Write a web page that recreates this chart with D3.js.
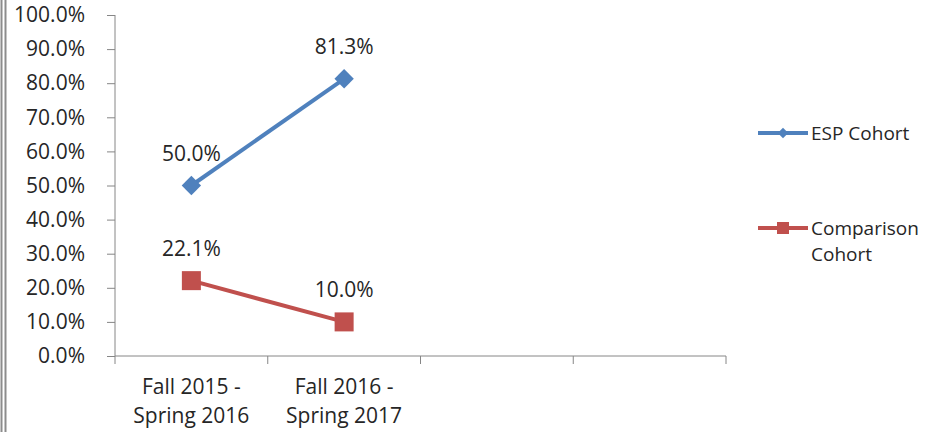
<!DOCTYPE html>
<html>
<head>
<meta charset="utf-8">
<script src="https://d3js.org/d3.v7.min.js"></script>
<style>
  body { margin: 0; background: #fff; }
  svg text { font-family: "Open Sans", sans-serif; fill: #262626; }
</style>
</head>
<body>
<svg id="chart" width="944" height="432"></svg>
<script>
// chart data
var categories = ["Fall 2015 -|Spring 2016", "Fall 2016 -|Spring 2017", "c3", "c4"];
var espValues = [0.50, 0.813];
var compValues = [0.221, 0.10];
var seriesNames = ["ESP Cohort", "Comparison|Cohort"];
var yTicks = [0, 0.1, 0.2, 0.3, 0.4, 0.5, 0.6, 0.7, 0.8, 0.9, 1.0];

var svg = d3.select("#chart");
var blue = "#4F81BD", red = "#C0504D", axisCol = "#868686";
var fs = "21px";

// frame on the left
svg.append("line").attr("x1", 1.5).attr("x2", 1.5).attr("y1", 0).attr("y2", 432)
  .attr("stroke", "#8c8c8c").attr("stroke-width", 2);
svg.append("line").attr("x1", 5.5).attr("x2", 5.5).attr("y1", 0).attr("y2", 432)
  .attr("stroke", "#8c8c8c").attr("stroke-width", 2);

var x = d3.scaleBand().domain(categories).range([115, 726]);
var y = d3.scaleLinear().domain([0, 1]).range([356, 15]);

// y axis
var yAxis = svg.append("g").attr("transform", "translate(115,0)")
  .call(d3.axisLeft(y).tickValues(yTicks).tickSize(8).tickPadding(22)
    .tickFormat(function(d) { return (d * 100).toFixed(1) + "%"; }));
yAxis.select(".domain").attr("stroke", axisCol).attr("d", "M0,15V356");
yAxis.selectAll(".tick line").attr("stroke", axisCol);
yAxis.selectAll(".tick text").style("font-size", fs).attr("fill", "#262626")
  .style("font-family", "'Open Sans', sans-serif");

// x axis
var xg = svg.append("g").attr("transform", "translate(0,356)");
xg.append("line").attr("x1", 115).attr("x2", 726).attr("stroke", axisCol);
var bounds = categories.map(function(c) { return x(c); }).concat([726]);
xg.selectAll(".xt").data(bounds).enter().append("line")
  .attr("x1", function(d) { return d; }).attr("x2", function(d) { return d; })
  .attr("y1", 0).attr("y2", 8).attr("stroke", axisCol);
categories.slice(0, 2).forEach(function(c) {
  var t = xg.append("text").attr("text-anchor", "middle").style("font-size", fs);
  c.split("|").forEach(function(s, i) {
    t.append("tspan").attr("x", x(c) + x.bandwidth() / 2).attr("y", 38 + i * 29).text(s);
  });
});

function cx(i) { return x(categories[i]) + x.bandwidth() / 2; }
var line = d3.line().x(function(d, i) { return cx(i); }).y(function(d) { return y(d); });

// ESP series
svg.append("path").datum(espValues).attr("d", line).attr("fill", "none")
  .attr("stroke", blue).attr("stroke-width", 4);
svg.selectAll(".dia").data(espValues).enter().append("path")
  .attr("d", d3.symbol().type(d3.symbolDiamond2).size(240))
  .attr("transform", function(d, i) { return "translate(" + cx(i) + "," + y(d) + ")"; })
  .attr("fill", blue);

// Comparison series
svg.append("path").datum(compValues).attr("d", line).attr("fill", "none")
  .attr("stroke", red).attr("stroke-width", 4);
svg.selectAll(".sq").data(compValues).enter().append("rect")
  .attr("x", function(d, i) { return cx(i) - 9.5; })
  .attr("y", function(d) { return y(d) - 9.5; })
  .attr("width", 19).attr("height", 19).attr("fill", red);

// data labels
espValues.concat(compValues).forEach(function(v, k) {
  svg.append("text").attr("x", cx(k % 2)).attr("y", y(v) - 25)
    .attr("text-anchor", "middle").style("font-size", fs)
    .text((v * 100).toFixed(1) + "%");
});

// legend
var legend = [
  { name: seriesNames[0], color: blue, y: 133, shape: "diamond" },
  { name: seriesNames[1], color: red, y: 228, shape: "square" }
];
legend.forEach(function(l) {
  svg.append("line").attr("x1", 758).attr("x2", 808).attr("y1", l.y).attr("y2", l.y)
    .attr("stroke", l.color).attr("stroke-width", 4);
  if (l.shape === "diamond") {
    svg.append("path").attr("d", d3.symbol().type(d3.symbolDiamond2).size(70))
      .attr("transform", "translate(783," + l.y + ")").attr("fill", l.color);
  } else {
    svg.append("rect").attr("x", 777).attr("y", l.y - 6).attr("width", 12).attr("height", 12)
      .attr("fill", l.color);
  }
  var t = svg.append("text").style("font-size", "19px");
  l.name.split("|").forEach(function(s, i) {
    t.append("tspan").attr("x", 811).attr("y", l.y + 7 + i * 26).text(s);
  });
});
</script>
</body>
</html>
